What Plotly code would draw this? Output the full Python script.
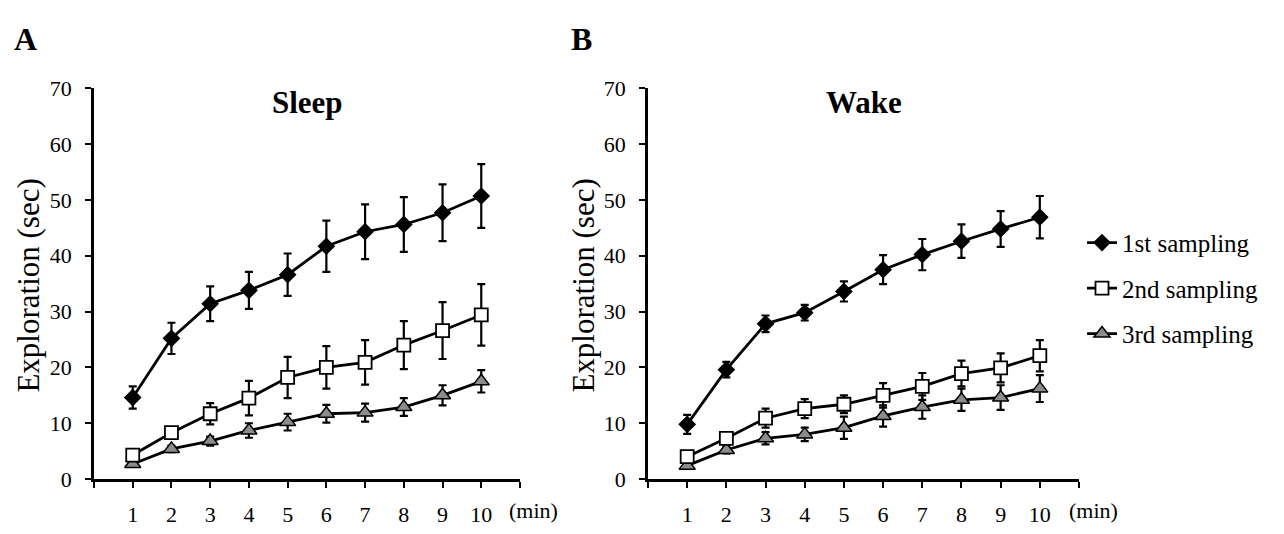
import plotly.graph_objects as go

minutes = [1, 2, 3, 4, 5, 6, 7, 8, 9, 10]
series_names = ["1st sampling", "2nd sampling", "3rd sampling"]

sleep_1st = [14.6, 25.2, 31.4, 33.8, 36.6, 41.7, 44.3, 45.6, 47.7, 50.7]
sleep_1st_se = [2.0, 2.8, 3.1, 3.3, 3.8, 4.6, 4.9, 4.9, 5.1, 5.7]
sleep_2nd = [4.3, 8.3, 11.7, 14.5, 18.2, 20.0, 20.9, 24.0, 26.6, 29.4]
sleep_2nd_se = [0.6, 0.9, 1.9, 3.1, 3.7, 3.8, 4.0, 4.3, 5.1, 5.5]
sleep_3rd = [2.7, 5.4, 6.8, 8.7, 10.2, 11.7, 11.9, 12.9, 15.0, 17.5]
sleep_3rd_se = [0.5, 0.6, 0.8, 1.3, 1.5, 1.6, 1.6, 1.6, 1.8, 2.0]

wake_1st = [9.8, 19.6, 27.8, 29.8, 33.6, 37.5, 40.2, 42.6, 44.8, 46.9]
wake_1st_se = [1.7, 1.4, 1.5, 1.4, 1.8, 2.6, 2.8, 3.0, 3.2, 3.8]
wake_2nd = [4.0, 7.3, 10.9, 12.6, 13.4, 15.0, 16.6, 18.9, 19.9, 22.1]
wake_2nd_se = [0.6, 0.8, 1.7, 1.7, 1.6, 2.2, 2.4, 2.3, 2.6, 2.8]
wake_3rd = [2.4, 5.2, 7.3, 8.0, 9.2, 11.3, 12.9, 14.2, 14.6, 16.2]
wake_3rd_se = [0.5, 0.6, 1.1, 1.2, 2.0, 1.9, 2.1, 2.0, 2.2, 2.4]

y_ticks = [0, 10, 20, 30, 40, 50, 60, 70]
x_tickvals = [0, 1, 2, 3, 4, 5, 6, 7, 8, 9, 10, 11]
x_ticktext = ["", "1", "2", "3", "4", "5", "6", "7", "8", "9", "10", ""]

FONT = "Liberation Serif"
W, H = 1284, 534

styles = [
    dict(symbol="diamond", size=12, color="black", line=dict(color="black", width=1.5)),
    dict(symbol="square", size=13, color="white", line=dict(color="black", width=1.8)),
    dict(symbol="triangle-up", size=14, color="#8c8c8c", line=dict(color="black", width=1.5)),
]

fig = go.Figure()

panels = [
    ("x", "y", [sleep_1st, sleep_2nd, sleep_3rd], [sleep_1st_se, sleep_2nd_se, sleep_3rd_se]),
    ("x2", "y2", [wake_1st, wake_2nd, wake_3rd], [wake_1st_se, wake_2nd_se, wake_3rd_se]),
]

for pi, (xa, ya, vals, ses) in enumerate(panels):
    for si in [2, 1, 0]:
        fig.add_trace(go.Scatter(
            x=minutes, y=vals[si], xaxis=xa, yaxis=ya,
            mode="lines+markers",
            name=series_names[si],
            legendgroup=series_names[si],
            legendrank=si + 1,
            showlegend=(pi == 1),
            line=dict(color="black", width=2.8),
            marker=styles[si],
            error_y=dict(type="data", array=ses[si], visible=True,
                         color="black", thickness=2.2, width=4),
            cliponaxis=False,
        ))

def px_x(p):
    return p / W

def px_y(p):
    return 1 - p / H

axis_common = dict(
    showline=True, linecolor="black", linewidth=2.5,
    ticks="outside", tickcolor="black", tickwidth=2.2, ticklen=6,
    showgrid=False, zeroline=False,
    tickfont=dict(family=FONT, size=22, color="black"),
)

fig.update_layout(
    width=W, height=H,
    margin=dict(l=0, r=0, t=0, b=0),
    paper_bgcolor="white", plot_bgcolor="white",
    font=dict(family=FONT, color="black"),
    xaxis=dict(domain=[px_x(94), px_x(520)], range=[0, 11], tickvals=x_tickvals,
               ticktext=x_ticktext, anchor="y", ticklabelstandoff=8, **axis_common),
    yaxis=dict(domain=[px_y(490), px_y(80)], range=[0, 70], tickvals=y_ticks,
               anchor="x", ticklabelstandoff=9, **axis_common),
    xaxis2=dict(domain=[px_x(648), px_x(1079)], range=[0, 11], tickvals=x_tickvals,
                ticktext=x_ticktext, anchor="y2", ticklabelstandoff=8, **axis_common),
    yaxis2=dict(domain=[px_y(490), px_y(80)], range=[0, 70], tickvals=y_ticks,
                anchor="x2", ticklabelstandoff=9, **axis_common),
    legend=dict(x=px_x(1082), y=px_y(218), xanchor="left", yanchor="top",
                font=dict(family=FONT, size=25, color="black"),
                tracegroupgap=10, traceorder="grouped", bgcolor="rgba(0,0,0,0)",
                itemwidth=30),
    showlegend=True,
)

annos = [
    dict(text="<b>A</b>", x=px_x(25), y=px_y(28), size=32, angle=0),
    dict(text="<b>B</b>", x=px_x(581), y=px_y(28), size=32, angle=0),
    dict(text="<b>Sleep</b>", x=px_x(307), y=px_y(95), size=31, angle=0),
    dict(text="<b>Wake</b>", x=px_x(864), y=px_y(95), size=31, angle=0),
    dict(text="Exploration (sec)", x=px_x(29), y=px_y(287), size=31, angle=-90),
    dict(text="Exploration (sec)", x=px_x(584), y=px_y(287), size=31, angle=-90),
    dict(text="(min)", x=px_x(533), y=px_y(523), size=22, angle=0),
    dict(text="(min)", x=px_x(1093), y=px_y(523), size=22, angle=0),
]
for a in annos:
    fig.add_annotation(text=a["text"], x=a["x"], y=a["y"], xref="paper", yref="paper",
                       xanchor="center", yanchor="middle", showarrow=False,
                       textangle=a["angle"],
                       font=dict(family=FONT, size=a["size"], color="black"))

fig.write_html("out.html",
               config={"displayModeBar": False},
               post_script="document.body.style.margin='0';document.body.style.overflow='hidden';")
